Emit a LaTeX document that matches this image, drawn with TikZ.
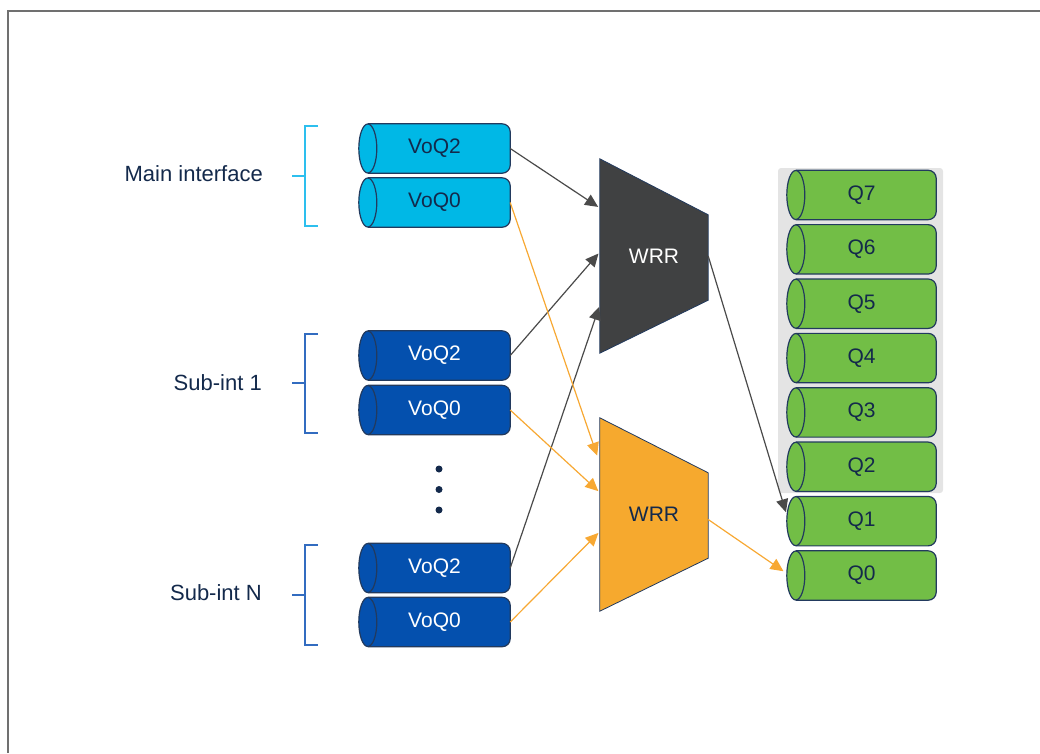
\documentclass[tikz,border=0pt]{standalone}
\usepackage{fontspec}
\setmainfont{Liberation Sans}
\usetikzlibrary{arrows.meta,calc}

\definecolor{navy}{HTML}{13294B}
\definecolor{edge}{HTML}{223A5E}
\definecolor{lightq}{HTML}{00B8E6}
\definecolor{darkq}{HTML}{0450AE}
\definecolor{greenq}{HTML}{72BE46}
\definecolor{wrrdark}{HTML}{404142}
\definecolor{wrrorange}{HTML}{F6A92E}
\definecolor{arrgray}{HTML}{4A4A4A}
\definecolor{arrorange}{HTML}{F7A833}
\definecolor{panelgray}{HTML}{E4E4E4}
\definecolor{bracelight}{HTML}{2DBFEE}
\definecolor{bracedark}{HTML}{326CC0}
\definecolor{framegray}{HTML}{707070}

\pgfdeclarelayer{panel}
\pgfdeclarelayer{shapes}
\pgfsetlayers{panel,shapes,main}

\newcommand\qfont{\fontsize{21}{25}\selectfont}
\newcommand\lblfont{\fontsize{22}{26}\selectfont}

% queue drawn as a cylinder lying on its side: elliptic left end, rounded right end
\newcommand\drawqueue[2]{%
  \fill[#2] ([xshift=9pt]#1.north west) rectangle ([xshift=-8pt]#1.south east);
  \fill[#2, rounded corners=8pt] ([xshift=9pt]#1.north west) rectangle (#1.south east);
  \draw[qline, rounded corners=8pt] ([xshift=9pt]#1.north west) -- (#1.north east)
       -- (#1.south east) -- ([xshift=9pt]#1.south west);
  \filldraw[qline, fill=#2] ([xshift=9pt]#1.west) ellipse [x radius=9pt, y radius=24.5pt];
}

\tikzset{
  qline/.style={draw=edge, line width=1.2pt},
  voq/.style={minimum width=151pt, minimum height=49pt, inner sep=0pt, font=\qfont},
  gq/.style={minimum width=149pt, minimum height=49pt, inner sep=0pt, font=\qfont, text=navy},
  wrrbox/.style={minimum width=108pt, inner sep=0pt, font=\qfont},
  lbl/.style={anchor=east, inner sep=0pt, font=\lblfont, text=navy},
  gray arrow/.style={draw=arrgray, line width=1.2pt, shorten >=2pt,
    -{Triangle[length=13pt, width=12pt]}},
  orange arrow/.style={draw=arrorange, line width=1.2pt, shorten >=2pt,
    -{Triangle[length=13pt, width=12pt]}},
  bracket/.style={line width=1.3pt},
}

\begin{document}
\begin{tikzpicture}[x=1pt, y=-1pt]
  \useasboundingbox (0,0) rectangle (1040,753);

  % outer frame (top and left edges)
  \draw[framegray, line width=2pt] (8,753) -- (8,11) -- (1040,11);

  % interface labels and their brackets
  \node[lbl] (lmain) at (263,174) {Main interface};
  \node[lbl] (lsub1) at (262,383) {Sub-int 1};
  \node[lbl] (lsubn) at (262,593) {Sub-int N};

  \draw[bracket, bracelight] (318,126) -- (305,126) -- (305,226) -- (318,226);
  \draw[bracket, bracelight] (292,176) -- (305,176);
  \draw[bracket, bracedark] (318,334) -- (305,334) -- (305,433) -- (318,433);
  \draw[bracket, bracedark] (292,383) -- (305,383);
  \draw[bracket, bracedark] (318,545) -- (305,545) -- (305,645) -- (318,645);
  \draw[bracket, bracedark] (292,595) -- (305,595);

  % virtual output queues
  \node[voq, text=navy]  (m2) at (434.5,148.5) {VoQ2};
  \node[voq, text=navy]  (m0) at (434.5,202.5) {VoQ0};
  \node[voq, text=white] (a2) at (434.5,355.5) {VoQ2};
  \node[voq, text=white] (a0) at (434.5,410)   {VoQ0};
  \node[voq, text=white] (n2) at (434.5,568)   {VoQ2};
  \node[voq, text=white] (n0) at (434.5,622)   {VoQ0};

  % ellipsis between sub-interfaces
  \fill[navy] (439,469) circle (3.5pt) (439,489.5) circle (3.5pt) (439,510) circle (3.5pt);

  % schedulers
  \node[wrrbox, minimum height=194pt, text=white] (w1) at (654,256) {WRR};
  \node[wrrbox, minimum height=193pt, text=navy]  (w2) at (654,514.5) {WRR};

  % egress queues
  \foreach \k in {0,...,7} {
    \node[gq] (q\k) at (861.5,{575.5-54.36*\k}) {Q\k};
  }

  \begin{pgfonlayer}{panel}
    \fill[panelgray, rounded corners=3pt] (778,168) rectangle (943,493);
  \end{pgfonlayer}

  \begin{pgfonlayer}{shapes}
    \drawqueue{m2}{lightq}
    \drawqueue{m0}{lightq}
    \drawqueue{a2}{darkq}
    \drawqueue{a0}{darkq}
    \drawqueue{n2}{darkq}
    \drawqueue{n0}{darkq}
    \foreach \k in {0,...,7} { \drawqueue{q\k}{greenq} }

    \filldraw[fill=wrrdark, draw=edge, line width=0.8pt]
      (w1.north west) -- ($(w1.north east)+(0,56)$) -- ($(w1.south east)+(0,-53)$)
      -- (w1.south west) -- cycle;
    \filldraw[fill=wrrorange, draw=edge, line width=0.8pt]
      (w2.north west) -- ($(w2.north east)+(0,55)$) -- ($(w2.south east)+(0,-53)$)
      -- (w2.south west) -- cycle;
  \end{pgfonlayer}

  % high-priority path
  \draw[gray arrow] (m2.east) -- ($(w1.west)+(0,-48)$);
  \draw[gray arrow] (a2.east) -- ($(w1.west)+(0,-4)$);
  \draw[gray arrow] (n2.east) -- ($(w1.west)+(0,49)$);
  \draw[gray arrow, shorten >=3pt] (w1.east) -- ($(q1.west)+(0,-6)$);

  % low-priority path
  \draw[orange arrow] (m0.east) -- ($(w2.west)+(-2,-57)$);
  \draw[orange arrow] (a0.east) -- ($(w2.west)+(0,-22)$);
  \draw[orange arrow] (n0.east) -- ($(w2.west)+(0,17)$);
  \draw[orange arrow, shorten >=4pt] ($(w2.east)+(0,5)$) -- ($(q0.west)+(0,-2)$);
\end{tikzpicture}
\end{document}
